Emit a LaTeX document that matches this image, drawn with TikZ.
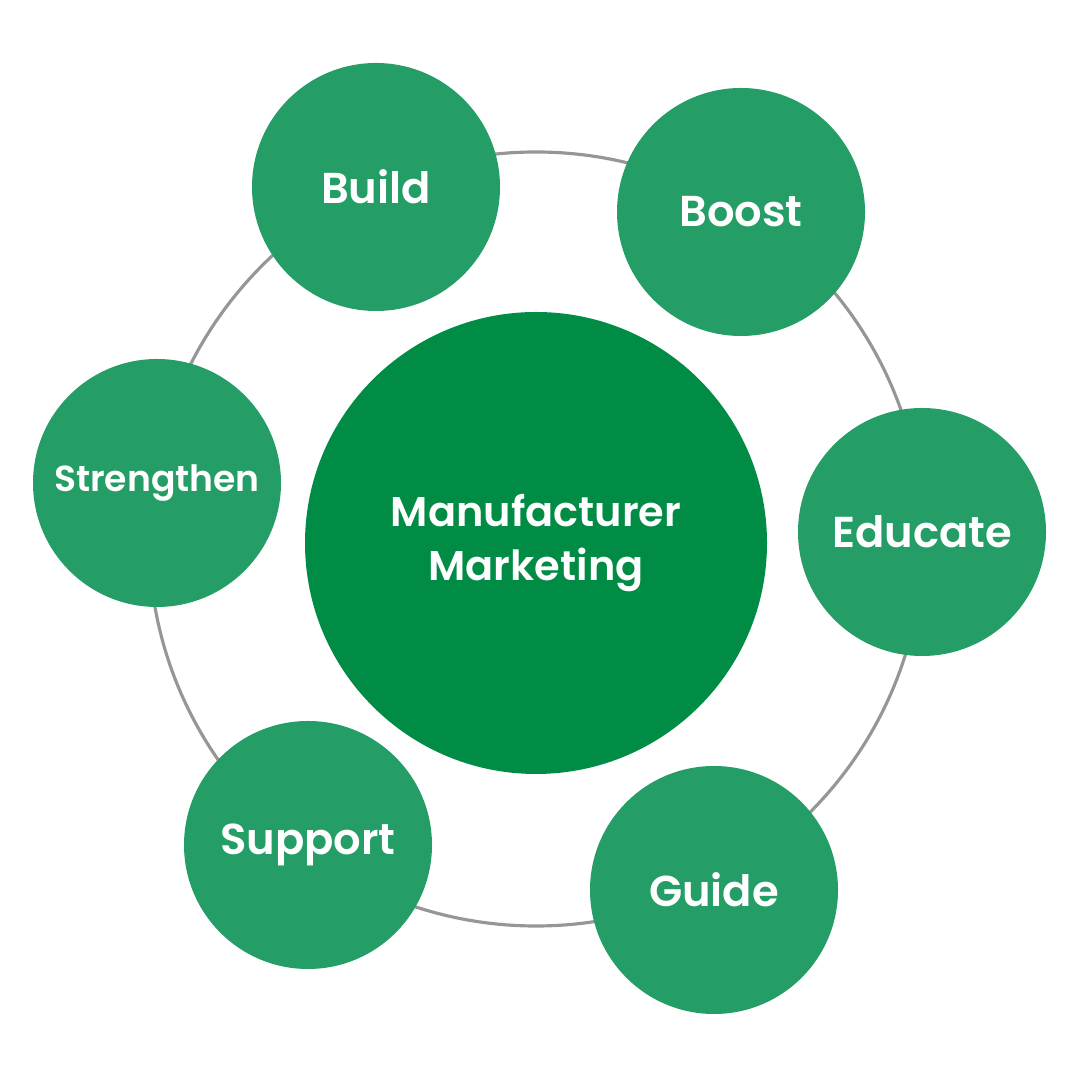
\documentclass[tikz,border=0pt]{standalone}
\usepackage{fontspec}
\setmainfont{Poppins}[BoldFont = {* SemiBold}]
\usepackage{tikz}
\usetikzlibrary{positioning}
\definecolor{coregreen}{RGB}{0,140,68}
\definecolor{leafgreen}{RGB}{36,158,102}
\definecolor{ringgray}{RGB}{150,150,150}
\tikzset{
core/.style = { circle, fill = coregreen, text = white, minimum size = 46.2mm, inner sep = 0pt, align = center, font = \fontsize{11.8}{15.6}\selectfont\bfseries },
leaf/.style = { circle, fill = leafgreen, text = white, minimum size = 24.8mm, inner sep = 0pt, font = \fontsize{12.3}{14}\selectfont\bfseries },
ring/.style = { draw = ringgray, line width = 0.9pt },
}
\begin{document}
\begin{tikzpicture}
    \useasboundingbox (0, 0) rectangle (10.8, 10.8);
    % outer ring
    \draw[ring] (5.36, 5.41) circle (3.87);
    % centre
    \node[core] (mm) at (5.36, 5.37) {Manufacturer\\Marketing};
    % satellites
    \node[leaf] (build) at (3.76, 8.93) {Build};
    \node[leaf] (boost) at (7.41, 8.68) {Boost};
    \node[leaf] (educate) at (9.22, 5.48) {Educate};
    \node[leaf] (guide) at (7.14, 1.90) {Guide};
    \node[leaf] (support) at (3.08, 2.35) {Support};
    \node[leaf, font = \fontsize{10.3}{12}\selectfont\bfseries] (strengthen) at (1.57, 5.97) {Strengthen};
\end{tikzpicture}
\end{document}
